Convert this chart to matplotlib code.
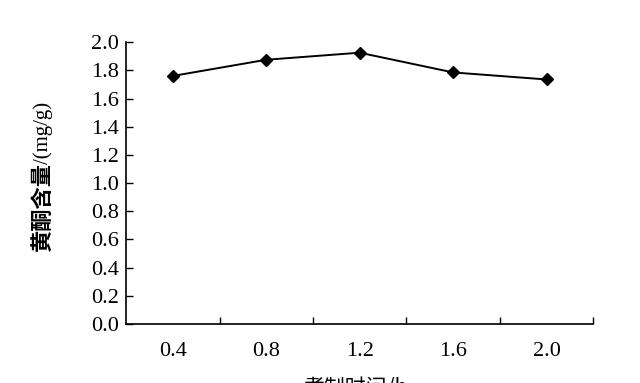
import matplotlib
matplotlib.use("Agg")
import matplotlib.pyplot as plt
import numpy as np

categories = ["0.4", "0.8", "1.2", "1.6", "2.0"]
values = [1.76, 1.875, 1.925, 1.785, 1.735]
yticks = [0.0, 0.2, 0.4, 0.6, 0.8, 1.0, 1.2, 1.4, 1.6, 1.8, 2.0]

fig = plt.figure(figsize=(6.4, 3.83), dpi=100)
ax = fig.add_axes([0.197, 0.154, 0.730, 0.736])
x = np.arange(len(categories))
ax.plot(x, values, color="black", lw=1.4, marker="D", ms=6.5, mfc="black", mec="black")

ax.set_xlim(-0.5, len(categories) - 0.5)
ax.set_ylim(0, 2.0)
ax.set_yticks(yticks)
ax.set_yticklabels([f"{v:.1f}" for v in yticks], family="Liberation Serif", fontsize=16)
ax.set_xticks(x + 0.5)
ax.set_xticklabels([])
ax.set_xticks(x, minor=True)
ax.set_xticklabels(categories, minor=True, family="Liberation Serif", fontsize=16)
ax.tick_params(axis="x", which="major", direction="in", length=5, width=1)
ax.tick_params(axis="x", which="minor", length=0, pad=13)
ax.tick_params(axis="y", direction="in", length=5, width=1, pad=5)
ax.spines["top"].set_visible(False)
ax.spines["right"].set_visible(False)
for s in ["left", "bottom"]:
    ax.spines[s].set_linewidth(1.2)

fig.text(0.066, 0.462, "黄酮含量", rotation=90, ha="center", va="center",
         family=["Noto Sans CJK SC"], fontsize=16, fontweight="bold")
fig.text(0.068, 0.652, "/(mg/g)", rotation=90, ha="center", va="center",
         family=["Liberation Serif"], fontsize=15)
fig.text(0.555, 0.016, "煮制时间/h", ha="center", va="top",
         family=["Noto Sans CJK SC"], fontsize=15)

fig.savefig("out.png", dpi=100)
